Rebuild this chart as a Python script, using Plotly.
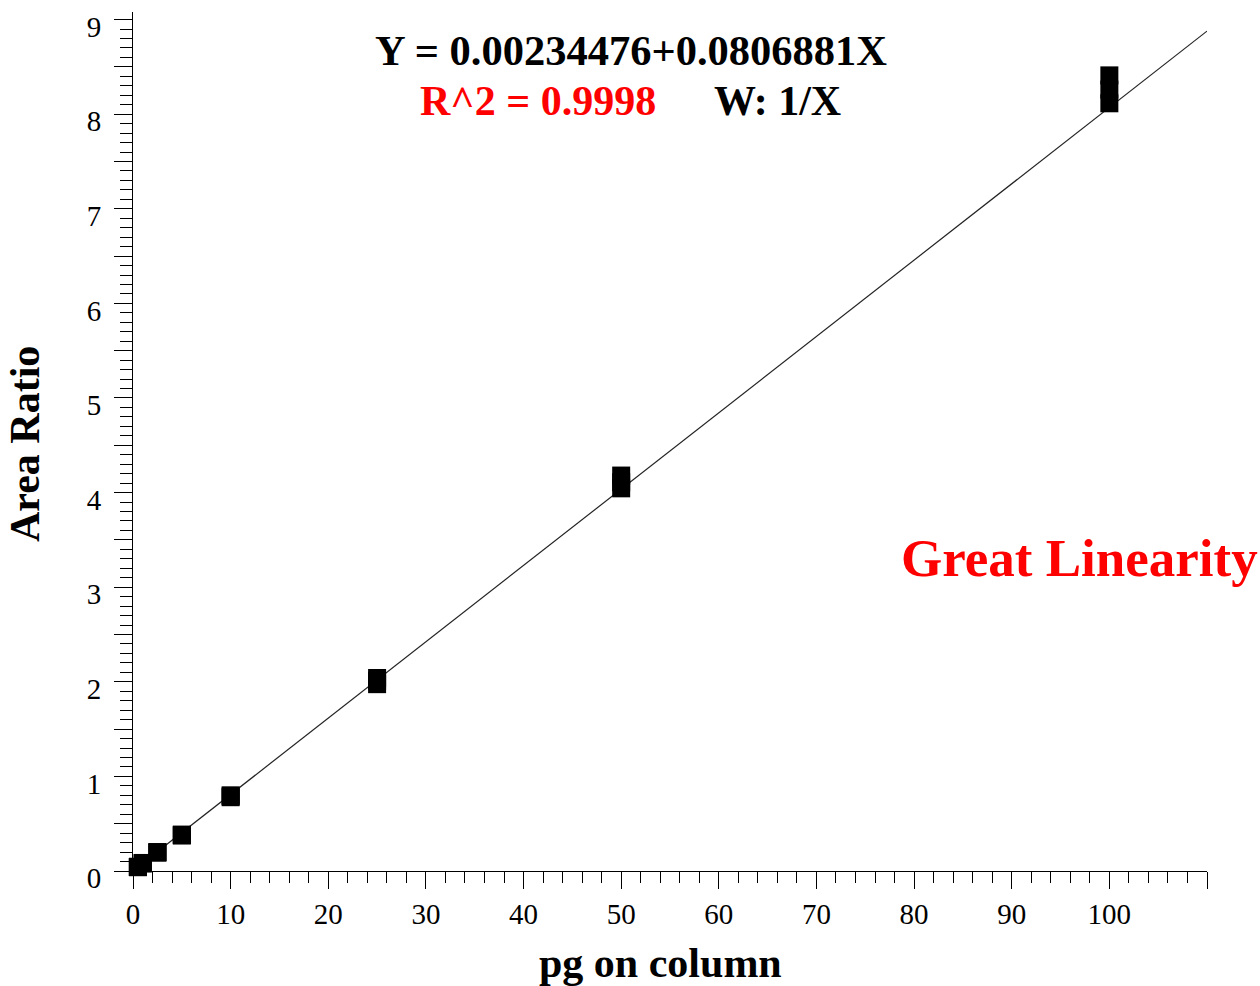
import plotly.graph_objects as go

# Calibration standards (pg on column) and measured area ratios, triplicate injections
conc = [0.5, 0.5, 0.5, 1, 1, 1, 2.5, 2.5, 2.5, 5, 5, 5, 10, 10, 10,
        25, 25, 25, 50, 50, 50, 100, 100, 100]
area_ratio = [0.045, 0.042, 0.040, 0.085, 0.082, 0.080, 0.200, 0.197, 0.195,
              0.385, 0.380, 0.375, 0.800, 0.790, 0.780, 2.040, 2.010, 1.975,
              4.180, 4.110, 4.045, 8.410, 8.260, 8.115]

# Weighted (1/X) linear regression result
intercept = 0.00234476
slope = 0.0806881
r_squared = "0.9998"
weighting = "1/X"

fit_x = [0, 110]
fit_y = [intercept + slope * v for v in fit_x]

x_major = list(range(0, 111, 10))
x_labels = [str(v) if v <= 100 else "" for v in x_major]
y_major = [i * 0.5 for i in range(19)]
y_labels = [str(int(v)) if v == int(v) else "" for v in y_major]

SERIF = "Liberation Serif"
W, H = 1260, 986
ML, MR, MT, MB = 133, 53, 12, 115


def px(xp):
    return (xp - ML) / (W - ML - MR)


def py(yp):
    return (H - MB - yp) / (H - MT - MB)


fig = go.Figure()
fig.add_trace(go.Scatter(
    x=fit_x, y=fit_y, mode="lines",
    line=dict(color="#222222", width=1.2),
    hoverinfo="skip", cliponaxis=False,
))
fig.add_trace(go.Scatter(
    x=conc, y=area_ratio, mode="markers",
    marker=dict(symbol="square", size=18, color="black", line=dict(width=0)),
    cliponaxis=False,
))

axis_common = dict(
    showgrid=False, zeroline=False, showline=True, linecolor="black", linewidth=1,
    ticks="outside", tickcolor="black", tickwidth=1, tickmode="array",
    tickfont=dict(family=SERIF, size=29, color="black"),
    ticklabeloverflow="allow",
)

fig.update_xaxes(
    range=[0, 110], tickvals=x_major, ticktext=x_labels, ticklen=17,
    minor=dict(dtick=2, ticks="outside", ticklen=11, tickcolor="black", tickwidth=1),
    **axis_common,
)
fig.update_yaxes(
    range=[0, 9.08], tickvals=y_major, ticktext=y_labels, ticklen=18,
    ticklabelshift=7, ticklabelstandoff=7,
    minor=dict(dtick=0.1, ticks="outside", ticklen=12, tickcolor="black", tickwidth=1),
    **axis_common,
)

annotations = [
    dict(text="<b>Y = %s+%sX</b>" % (intercept, slope), x=px(631), y=py(50),
         font=dict(family=SERIF, size=42.5, color="black")),
    dict(text="<b>R^2 = %s</b>" % r_squared, x=px(418), y=py(101), xanchor="left",
         font=dict(family=SERIF, size=42, color="#ff0000")),
    dict(text="<b>W: %s</b>" % weighting, x=px(712), y=py(101), xanchor="left",
         font=dict(family=SERIF, size=42, color="black")),
    dict(text="<b>Great Linearity</b>", x=px(899), y=py(558), xanchor="left",
         font=dict(family=SERIF, size=53, color="#ff0000")),
    dict(text="<b>pg on column</b>", x=px(660), y=py(963),
         font=dict(family=SERIF, size=42, color="black")),
    dict(text="<b>Area Ratio</b>", x=px(25), y=py(444), textangle=-90,
         font=dict(family=SERIF, size=42, color="black")),
]
for a in annotations:
    a.setdefault("xanchor", "center")
    a.update(xref="paper", yref="paper", yanchor="middle", showarrow=False)

fig.update_layout(
    width=W, height=H,
    margin=dict(l=ML, r=MR, t=MT, b=MB),
    paper_bgcolor="white", plot_bgcolor="white",
    showlegend=False,
    annotations=annotations,
)

fig.write_html("out.html")
